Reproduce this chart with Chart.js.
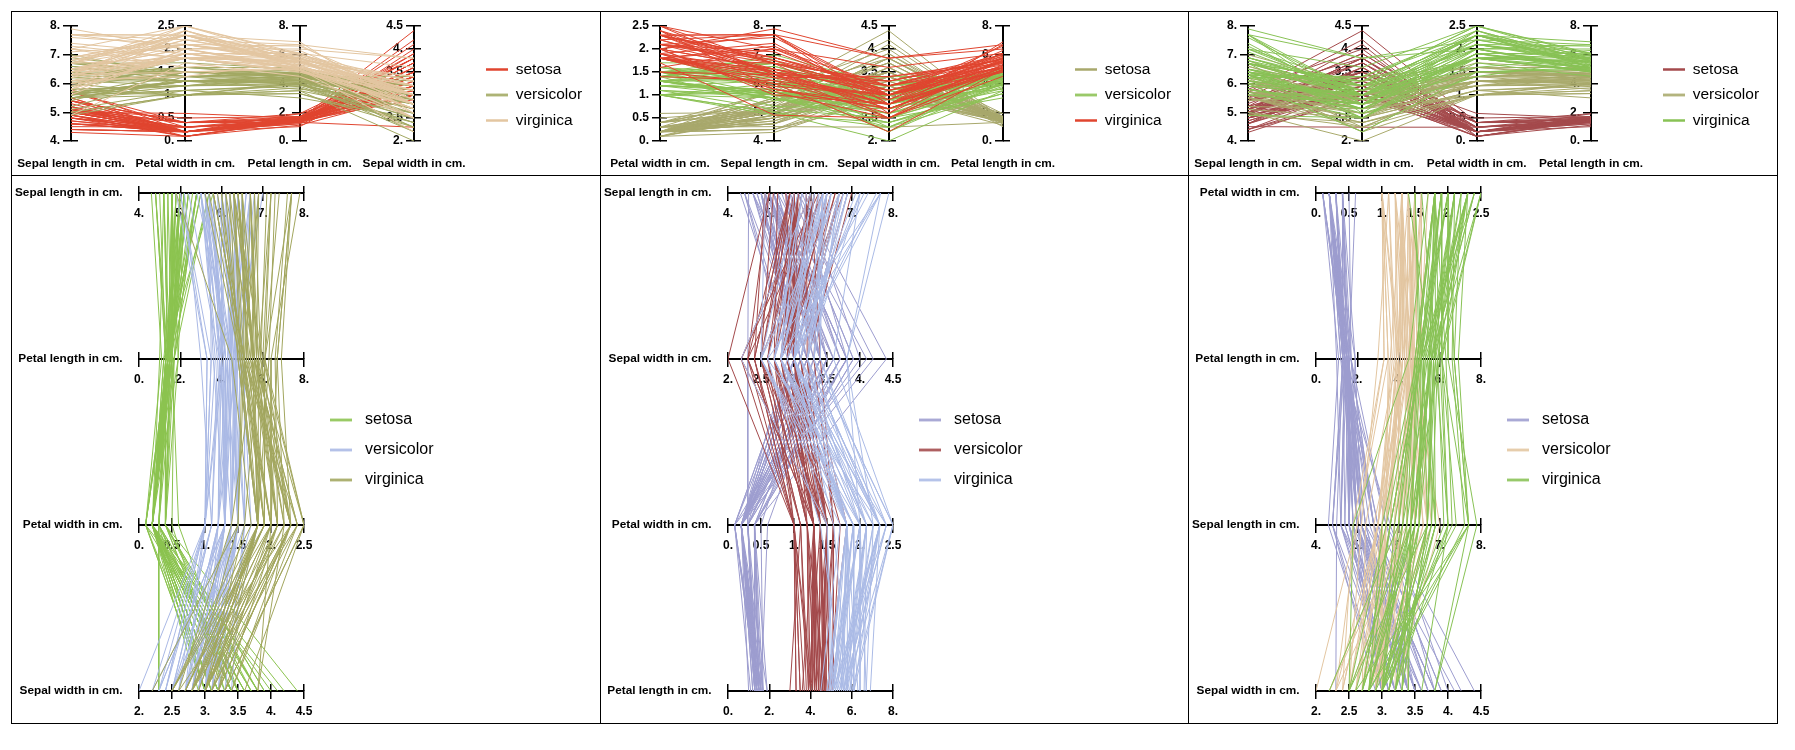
<!DOCTYPE html>
<html><head><meta charset="utf-8">
<script src="https://cdn.jsdelivr.net/npm/chart.js@4.4.1/dist/chart.umd.min.js"></script>
<style>
html,body{margin:0;padding:0;background:#fff;}
body{width:1795px;height:750px;position:relative;overflow:hidden;}
canvas{position:absolute;}
.ln{position:absolute;background:#000;z-index:5;}
</style></head><body>
<div class="ln" style="left:11px;top:11px;width:1767px;height:1px"></div>
<div class="ln" style="left:11px;top:723px;width:1767px;height:1px"></div>
<div class="ln" style="left:11px;top:11px;width:1px;height:713px"></div>
<div class="ln" style="left:1777px;top:11px;width:1px;height:713px"></div>
<div class="ln" style="left:11px;top:175px;width:1767px;height:1px"></div>
<div class="ln" style="left:600px;top:11px;width:1px;height:713px"></div>
<div class="ln" style="left:1188px;top:11px;width:1px;height:713px"></div>
<canvas id="c0" width="620" height="164" style="left:11px;top:11px"></canvas>
<canvas id="c1" width="620" height="164" style="left:600px;top:11px"></canvas>
<canvas id="c2" width="620" height="164" style="left:1188px;top:11px"></canvas>
<canvas id="c3" width="620" height="548" style="left:11px;top:175px"></canvas>
<canvas id="c4" width="620" height="548" style="left:600px;top:175px"></canvas>
<canvas id="c5" width="620" height="548" style="left:1188px;top:175px"></canvas>
<script>
// ---------- data (Fisher iris) ----------
const speciesNames = ['setosa', 'versicolor', 'virginica'];
const variableNames = ['Sepal length in cm.', 'Sepal width in cm.', 'Petal length in cm.', 'Petal width in cm.'];
const axisMin = [4, 2, 0, 0];
const axisMax = [8, 4.5, 8, 2.5];
const sepalLengthTicks = [4, 5, 6, 7, 8];
const sepalWidthTicks = [2, 2.5, 3, 3.5, 4, 4.5];
const petalLengthTicks = [0, 2, 4, 6, 8];
const petalWidthTicks = [0, 0.5, 1, 1.5, 2, 2.5];
const axisTicks = [sepalLengthTicks, sepalWidthTicks, petalLengthTicks, petalWidthTicks];

const setosaSepalLength = [5.1,4.9,4.7,4.6,5.0,5.4,4.6,5.0,4.4,4.9, 5.4,4.8,4.8,4.3,5.8,5.7,5.4,5.1,5.7,5.1, 5.4,5.1,4.6,5.1,4.8,5.0,5.0,5.2,5.2,4.7, 4.8,5.4,5.2,5.5,4.9,5.0,5.5,4.9,4.4,5.1, 5.0,4.5,4.4,5.0,5.1,4.8,5.1,4.6,5.3,5.0];
const setosaSepalWidth = [3.5,3.0,3.2,3.1,3.6,3.9,3.4,3.4,2.9,3.1, 3.7,3.4,3.0,3.0,4.0,4.4,3.9,3.5,3.8,3.8, 3.4,3.7,3.6,3.3,3.4,3.0,3.4,3.5,3.4,3.2, 3.1,3.4,4.1,4.2,3.1,3.2,3.5,3.6,3.0,3.4, 3.5,2.3,3.2,3.5,3.8,3.0,3.8,3.2,3.7,3.3];
const setosaPetalLength = [1.4,1.4,1.3,1.5,1.4,1.7,1.4,1.5,1.4,1.5, 1.5,1.6,1.4,1.1,1.2,1.5,1.3,1.4,1.7,1.5, 1.7,1.5,1.0,1.7,1.9,1.6,1.6,1.5,1.4,1.6, 1.6,1.5,1.5,1.4,1.5,1.2,1.3,1.4,1.3,1.5, 1.3,1.3,1.3,1.6,1.9,1.4,1.6,1.4,1.5,1.4];
const setosaPetalWidth = [0.2,0.2,0.2,0.2,0.2,0.4,0.3,0.2,0.2,0.1, 0.2,0.2,0.1,0.1,0.2,0.4,0.4,0.3,0.3,0.3, 0.2,0.4,0.2,0.5,0.2,0.2,0.4,0.2,0.2,0.2, 0.2,0.4,0.1,0.2,0.2,0.2,0.2,0.1,0.2,0.2, 0.3,0.3,0.2,0.6,0.4,0.3,0.2,0.2,0.2,0.2];

const versicolorSepalLength = [7.0,6.4,6.9,5.5,6.5,5.7,6.3,4.9,6.6,5.2, 5.0,5.9,6.0,6.1,5.6,6.7,5.6,5.8,6.2,5.6, 5.9,6.1,6.3,6.1,6.4,6.6,6.8,6.7,6.0,5.7, 5.5,5.5,5.8,6.0,5.4,6.0,6.7,6.3,5.6,5.5, 5.5,6.1,5.8,5.0,5.6,5.7,5.7,6.2,5.1,5.7];
const versicolorSepalWidth = [3.2,3.2,3.1,2.3,2.8,2.8,3.3,2.4,2.9,2.7, 2.0,3.0,2.2,2.9,2.9,3.1,3.0,2.7,2.2,2.5, 3.2,2.8,2.5,2.8,2.9,3.0,2.8,3.0,2.9,2.6, 2.4,2.4,2.7,2.7,3.0,3.4,3.1,2.3,3.0,2.5, 2.6,3.0,2.6,2.3,2.7,3.0,2.9,2.9,2.5,2.8];
const versicolorPetalLength = [4.7,4.5,4.9,4.0,4.6,4.5,4.7,3.3,4.6,3.9, 3.5,4.2,4.0,4.7,3.6,4.4,4.5,4.1,4.5,3.9, 4.8,4.0,4.9,4.7,4.3,4.4,4.8,5.0,4.5,3.5, 3.8,3.7,3.9,5.1,4.5,4.5,4.7,4.4,4.1,4.0, 4.4,4.6,4.0,3.3,4.2,4.2,4.2,4.3,3.0,4.1];
const versicolorPetalWidth = [1.4,1.5,1.5,1.3,1.5,1.3,1.6,1.0,1.3,1.4, 1.0,1.5,1.0,1.4,1.3,1.4,1.5,1.0,1.5,1.1, 1.8,1.3,1.5,1.2,1.3,1.4,1.4,1.7,1.5,1.0, 1.1,1.0,1.2,1.6,1.5,1.6,1.5,1.3,1.3,1.3, 1.2,1.4,1.2,1.0,1.3,1.2,1.3,1.3,1.1,1.3];

const virginicaSepalLength = [6.3,5.8,7.1,6.3,6.5,7.6,4.9,7.3,6.7,7.2, 6.5,6.4,6.8,5.7,5.8,6.4,6.5,7.7,7.7,6.0, 6.9,5.6,7.7,6.3,6.7,7.2,6.2,6.1,6.4,7.2, 7.4,7.9,6.4,6.3,6.1,7.7,6.3,6.4,6.0,6.9, 6.7,6.9,5.8,6.8,6.7,6.7,6.3,6.5,6.2,5.9];
const virginicaSepalWidth = [3.3,2.7,3.0,2.9,3.0,3.0,2.5,2.9,2.5,3.6, 3.2,2.7,3.0,2.5,2.8,3.2,3.0,3.8,2.6,2.2, 3.2,2.8,2.8,2.7,3.3,3.2,2.8,3.0,2.8,3.0, 2.8,3.8,2.8,2.8,2.6,3.0,3.4,3.1,3.0,3.1, 3.1,3.1,2.7,3.2,3.3,3.0,2.5,3.0,3.4,3.0];
const virginicaPetalLength = [6.0,5.1,5.9,5.6,5.8,6.6,4.5,6.3,5.8,6.1, 5.1,5.3,5.5,5.0,5.1,5.3,5.5,6.7,6.9,5.0, 5.7,4.9,6.7,4.9,5.7,6.0,4.8,4.9,5.6,5.8, 6.1,6.4,5.6,5.1,5.6,6.1,5.6,5.5,4.8,5.4, 5.6,5.1,5.1,5.9,5.7,5.2,5.0,5.2,5.4,5.1];
const virginicaPetalWidth = [2.5,1.9,2.1,1.8,2.2,2.1,1.7,1.8,1.8,2.5, 2.0,1.9,2.1,2.0,2.4,2.3,1.8,2.2,2.3,1.5, 2.3,2.0,2.0,1.8,2.1,1.8,1.8,1.8,2.1,1.6, 1.9,2.0,2.2,1.5,1.4,2.3,2.4,1.8,1.8,2.1, 2.4,2.3,1.9,2.3,2.5,2.3,1.9,2.0,2.3,1.8];

const speciesData = [
  [setosaSepalLength, setosaSepalWidth, setosaPetalLength, setosaPetalWidth],
  [versicolorSepalLength, versicolorSepalWidth, versicolorPetalLength, versicolorPetalWidth],
  [virginicaSepalLength, virginicaSepalWidth, virginicaPetalLength, virginicaPetalWidth]
];

// axis order per panel (0 SL, 1 SW, 2 PL, 3 PW)
const panelAxisOrder = [[0,3,2,1],[3,0,1,2],[0,1,3,2],[0,2,3,1],[0,1,3,2],[3,2,0,1]];
const panelColors = [
  ['#E0452F','#A2A862','#E3C6A1'],
  ['#A8A86C','#8CC254','#E0452F'],
  ['#A44A4C','#A9AA6C','#88C255'],
  ['#8BC34F','#AAB9E5','#A2A65E'],
  ['#9D9DCF','#A3494B','#ABBBE6'],
  ['#9D9DCF','#E3C6A1','#88C255']
];

// ---------- rendering ----------
const FONT = '"Liberation Sans", Arial, Helvetica, sans-serif';
const NAME_FONT_SIZE = 11.8;
const fmt = v => Number.isInteger(v) ? v + '.' : String(v);
const CANVAS_W = 620;

function swatch(color, w) {
  const c = document.createElement('canvas');
  c.width = w; c.height = 5;
  const g = c.getContext('2d');
  g.strokeStyle = color; g.lineWidth = 2.5;
  g.beginPath(); g.moveTo(0, 2.5); g.lineTo(22, 2.5); g.stroke();
  return c;
}

// legend box width: text fits inside, a little under the natural width so it is exact
function legendWidth(pad, fontSize, boxW) {
  const g = document.createElement('canvas').getContext('2d');
  g.font = fontSize + 'px ' + FONT;
  const w = Math.max(...speciesNames.map(t => g.measureText(t).width));
  return Math.round(pad + boxW + fontSize / 2 + w + 5);
}

function buildData(s, order, vertical) {
  const cols = speciesData[s];
  const out = [];
  for (let k = 0; k < cols[0].length; k++) {
    order.forEach((v, j) => {
      const n = (cols[v][k] - axisMin[v]) / (axisMax[v] - axisMin[v]);
      out.push(vertical ? {x: j, y: n} : {x: n, y: j});
    });
    out.push({x: null, y: null});
  }
  return out;
}

function makeChart(p) {
  const vertical = p < 3;
  const order = panelAxisOrder[p];
  const colors = panelColors[p];
  const scales = {};
  const nameTicks = {
    autoSkip: false, maxRotation: 0, minRotation: 0, padding: 0, color: '#000',
    font: {family: FONT, size: NAME_FONT_SIZE, weight: 'bold'},
    callback: v => variableNames[order[v]]
  };
  const setIdxTicks = s => { s.ticks = [0,1,2,3].map(v => ({value: v})); };
  const hidden = {display: false, drawTicks: false};
  // layout constants (pixels inside each panel)
  const L = vertical
    ? {left: 60, right: 403, legendItem: 475, lpad: 10, padT: 6, padB: 2, lfont: 15.5, boxW: 22}
    : {left: 128, right: 293, legendItem: 319, lpad: 14, padT: 18, padB: 16, lfont: 16, boxW: 27};
  const legendLeft = L.legendItem - L.lpad;
  const LW = legendWidth(L.lpad, L.lfont, L.boxW);
  const padR = CANVAS_W - legendLeft - LW;

  if (vertical) {
    scales.x = {type: 'linear', min: 0, max: 3, position: 'bottom', display: true,
      grid: {display: false, drawTicks: true, tickLength: 16}, border: {display: false},
      ticks: nameTicks, afterBuildTicks: setIdxTicks, afterFit: s => { s.height = 32; }};
    scales.tp = {axis: 'x', type: 'linear', position: 'top', display: true,
      grid: hidden, border: {display: false}, ticks: {display: false},
      afterFit: s => { s.height = 9; }};
    scales.y = {type: 'linear', min: 0, max: 1, display: false};
  } else {
    scales.x = {type: 'linear', min: 0, max: 1, position: 'bottom', display: true,
      grid: hidden, border: {display: false},
      ticks: {display: false}, afterFit: s => { s.height = 16; }};
    scales.y = {type: 'linear', min: 0, max: 3, reverse: true, position: 'left', display: true,
      grid: {display: false, drawTicks: true, tickLength: 16.5}, border: {display: false},
      ticks: nameTicks, afterBuildTicks: setIdxTicks, afterFit: s => { s.width = L.left; }};
  }
  scales.sp = {axis: 'y', type: 'linear', position: 'right', display: true,
    grid: hidden, border: {display: false}, ticks: {display: false},
    afterFit: s => { s.width = legendLeft - L.right; }};

  const valAxis = vertical ? 'y' : 'x';
  const unitPx = (L.right - L.left) / 3;
  order.forEach((v, j) => {
    const pos = vertical ? {x: j} : {y: j};
    const setT = s => { s.ticks = axisTicks[v].map(t => ({value: t})); };
    const tickFont = {family: FONT, size: 12, weight: 'bold'};
    // axis line + ticks on one side
    scales['a' + j] = {axis: valAxis, type: 'linear', position: pos, min: axisMin[v], max: axisMax[v],
      afterBuildTicks: setT,
      grid: {display: true, drawOnChartArea: false, drawTicks: true, tickLength: 7, color: '#000', lineWidth: 1.5},
      border: {display: true, color: '#000', width: 2},
      ticks: vertical ? {display: false, autoSkip: false}
        : {autoSkip: false, maxRotation: 0, minRotation: 0, padding: 6, color: '#000', font: tickFont, callback: fmt}};
    // ticks on the other side
    scales['b' + j] = {axis: valAxis, type: 'linear', position: pos, min: axisMin[v], max: axisMax[v],
      afterBuildTicks: setT,
      grid: {display: true, drawOnChartArea: false, drawTicks: true, tickLength: -7, color: '#000', lineWidth: 1.5},
      border: {display: false},
      ticks: {display: false, autoSkip: false}};
    if (vertical) {
      // tick labels, set to the left of the axis line
      scales['c' + j] = {axis: 'y', type: 'linear', position: {x: j - 11 / unitPx}, min: axisMin[v], max: axisMax[v],
        afterBuildTicks: setT,
        grid: {display: false, drawTicks: false}, border: {display: false},
        ticks: {autoSkip: false, padding: 0, color: '#000', font: tickFont, callback: fmt}};
    }
  });

  const datasets = speciesNames.map((name, s) => ({
    label: name, data: buildData(s, order, vertical),
    borderColor: colors[s], backgroundColor: colors[s],
    borderWidth: 1, pointRadius: 0, pointHoverRadius: 0, tension: 0, fill: false,
    spanGaps: false, order: 3 - s, xAxisID: 'x', yAxisID: 'y'
  }));
  new Chart(document.getElementById('c' + p), {
    type: 'line',
    data: {datasets},
    options: {
      responsive: false, animation: false, events: [],
      layout: {padding: {left: vertical ? L.left : 0, right: padR, top: L.padT, bottom: L.padB}},
      scales,
      plugins: {
        tooltip: {enabled: false},
        legend: {
          display: true, position: 'right', align: 'center', maxWidth: LW,
          labels: {
            usePointStyle: true, pointStyleWidth: L.boxW, padding: L.lpad,
            color: '#1a1a1a', font: {family: FONT, size: L.lfont},
            generateLabels: chart => chart.data.datasets.map((ds, i) => ({
              text: ds.label, fillStyle: ds.borderColor, strokeStyle: ds.borderColor,
              lineWidth: 0, pointStyle: swatch(ds.borderColor, L.boxW), hidden: false, datasetIndex: i
            }))
          }
        }
      }
    }
  });
}
for (let p = 0; p < 6; p++) makeChart(p);
</script>
</body></html>
